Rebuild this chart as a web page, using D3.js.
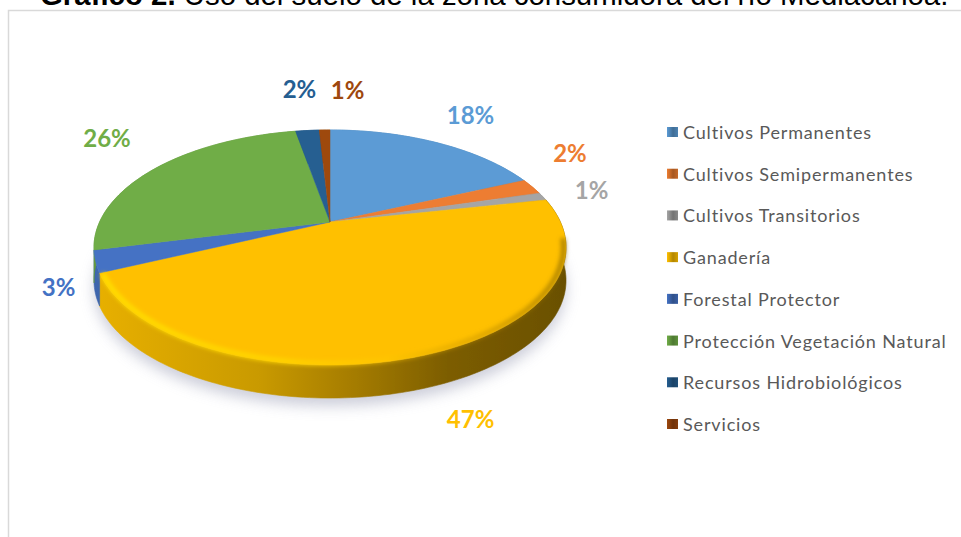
<!DOCTYPE html>
<html>
<head>
<meta charset="utf-8">
<script src="https://cdn.jsdelivr.net/npm/d3@7"></script>
<style>
  html, body { margin: 0; padding: 0; background: #fff; overflow: hidden; }
  svg { display: block; }
</style>
</head>
<body>
<svg></svg>
<script>
const categories = [
  "Cultivos Permanentes",
  "Cultivos Semipermanentes",
  "Cultivos Transitorios",
  "Ganadería",
  "Forestal Protector",
  "Protección Vegetación Natural",
  "Recursos Hidrobiológicos",
  "Servicios",
];
// labels are rounded, the slices read a little finer than that
const values = [18.4, 2.2, 1.1, 46.5, 3.0, 25.9, 2.0, 0.9];
const colors = ["#5b9bd5", "#ed7d31", "#a5a5a5", "#ffc000", "#4472c4", "#70ad47", "#255e91", "#9e480e"];
// the labels were placed by hand in the original, offset from the rim
const labelNudges = [[34, -28], [38, -34], [49, -7], [50, 62], [-37, 25], [-50, -30], [-8, -42], [23, -41]];

const width = 961;
const height = 537;
const svg = d3.select("svg").attr("width", width).attr("height", height);

// pie centre and the perspective of the tilted disc
const cx = 330;
const cy = 222;
const radiusX = 230.4;
const radiusY = 112;
const tilt = 0.217;
const depth = 33;

const rim = (angle, r = 1) => {
  const u = Math.sin(angle) * r;
  const v = Math.cos(angle) * r;
  const w = 1 + tilt * v;
  return [cx + (radiusX * u) / w, cy - (radiusY * v) / w];
};

const arcPoints = (a0, a1, r = 1) => {
  const n = Math.max(2, Math.ceil((a1 - a0) / 0.02));
  return d3.range(n + 1).map((i) => rim(a0 + ((a1 - a0) * i) / n, r));
};

const line = d3.line();
const slices = d3.pie().sort(null).value((d) => d)(values);
const color = d3.scaleOrdinal().domain(categories).range(colors);
const pct = d3.format(".0f");

const defs = svg.append("defs");
const addBlur = (id, amount) => {
  defs
    .append("filter")
    .attr("id", id)
    .attr("x", "-20%")
    .attr("y", "-20%")
    .attr("width", "140%")
    .attr("height", "140%")
    .append("feGaussianBlur")
    .attr("stdDeviation", amount);
};
addBlur("shadowBlur", 7);
addBlur("rimBlur", 2);
addBlur("softBlur", 0.6);

// side of the disc goes dark towards the right
const sideGradient = (id, stops) => {
  const g = defs
    .append("linearGradient")
    .attr("id", id)
    .attr("gradientUnits", "userSpaceOnUse")
    .attr("x1", cx - radiusX - 6)
    .attr("x2", cx + radiusX + 6)
    .attr("y1", 0)
    .attr("y2", 0);
  stops.forEach((s) => {
    g.append("stop").attr("offset", s[0]).attr("stop-color", s[1]).attr("stop-opacity", s[2]);
  });
};
sideGradient("sideYellow", [[0, "#e8b000", 1], [0.35, "#c99a00", 1], [0.55, "#a57c00", 1], [0.75, "#7c5d00", 1], [1, "#6a5000", 1]]);
sideGradient("rimLight", [[0, "#ffe000", 1], [0.4, "#ffd400", 1], [0.62, "#ffc800", 0.6], [0.8, "#c89400", 0.5], [1, "#8a6800", 0.7]]);

// title, cut by the top of the picture
const title = svg
  .append("text")
  .attr("x", 40)
  .attr("y", 5)
  .attr("font-family", "Liberation Sans")
  .attr("font-size", 29.4)
  .attr("fill", "#000");
title.append("tspan").attr("font-weight", "bold").text("Gráfico 2. ");
title.append("tspan").text("Uso del suelo de la zona consumidora del río Mediacanoa.");

// chart frame
svg
  .append("path")
  .attr("d", line([[8.5, height], [8.5, 10.5], [width, 10.5]]))
  .attr("fill", "none")
  .attr("stroke", "#d9d9d9")
  .attr("stroke-width", 1.5);

// shadow under the disc
svg
  .append("path")
  .attr("d", line(arcPoints(0, 2 * Math.PI)) + "Z")
  .attr("transform", "translate(0," + (depth + 8) + ")")
  .attr("fill", "#c4c6d4")
  .attr("opacity", 0.85)
  .attr("filter", "url(#shadowBlur)");

const pie = svg.append("g").attr("filter", "url(#softBlur)");

// sides first, the top face covers the back half
const sideFill = (d, i) => (categories[i] === "Ganadería" ? "url(#sideYellow)" : d3.color(colors[i]).darker(0.35));
pie
  .selectAll("path.side")
  .data(slices)
  .enter()
  .append("path")
  .attr("class", "side")
  .attr("d", (d) => {
    const top = arcPoints(d.startAngle, d.endAngle);
    const bottom = top.map((p) => [p[0], p[1] + depth]).reverse();
    return line(top.concat(bottom)) + "Z";
  })
  .attr("fill", sideFill)
  .attr("stroke", sideFill)
  .attr("stroke-width", 0.6);

// top face
pie
  .selectAll("path.top")
  .data(slices)
  .enter()
  .append("path")
  .attr("class", "top")
  .attr("d", (d) => line([[cx, cy]].concat(arcPoints(d.startAngle, d.endAngle))) + "Z")
  .attr("fill", (d, i) => color(categories[i]))
  .attr("stroke", (d, i) => color(categories[i]))
  .attr("stroke-width", 0.5);

// bevel highlight along the front of the yellow slice
const ganaderia = slices[categories.indexOf("Ganadería")];
svg
  .append("path")
  .attr("d", line(arcPoints(ganaderia.startAngle + 0.35, ganaderia.endAngle - 0.01, 0.99)))
  .attr("fill", "none")
  .attr("stroke", "url(#rimLight)")
  .attr("stroke-width", 5)
  .attr("filter", "url(#rimBlur)");

// percentage labels
svg
  .selectAll("text.pct")
  .data(slices)
  .enter()
  .append("text")
  .attr("class", "pct")
  .attr("x", (d, i) => rim((d.startAngle + d.endAngle) / 2)[0] + labelNudges[i][0])
  .attr("y", (d, i) => rim((d.startAngle + d.endAngle) / 2)[1] + labelNudges[i][1])
  .attr("text-anchor", "middle")
  .attr("dominant-baseline", "central")
  .attr("font-family", "Lato")
  .attr("font-weight", "bold")
  .attr("font-size", 24)
  .attr("fill", (d, i) => color(categories[i]))
  .text((d) => pct(d.value) + "%");

// legend
const legendY = d3.scalePoint().domain(categories).range([132, 424]);

const swatchGrads = defs
  .selectAll("linearGradient.swatch")
  .data(categories)
  .enter()
  .append("linearGradient")
  .attr("class", "swatch")
  .attr("id", (d, i) => "swatch" + i);
swatchGrads.append("stop").attr("offset", 0).attr("stop-color", (d) => color(d));
swatchGrads.append("stop").attr("offset", 0.55).attr("stop-color", (d) => d3.color(color(d)).darker(1));
swatchGrads.append("stop").attr("offset", 1).attr("stop-color", (d) => d3.color(color(d)).darker(0.5));

const legend = svg
  .selectAll("g.legend")
  .data(categories)
  .enter()
  .append("g")
  .attr("class", "legend")
  .attr("transform", (d) => "translate(667," + legendY(d) + ")");

legend
  .append("rect")
  .attr("x", 0)
  .attr("y", -5)
  .attr("width", 11)
  .attr("height", 10)
  .attr("fill", (d, i) => "url(#swatch" + i + ")");

legend
  .append("text")
  .attr("x", 16)
  .attr("y", 0)
  .attr("dominant-baseline", "central")
  .attr("font-family", "Lato")
  .attr("font-size", 18)
  .attr("letter-spacing", 0.85)
  .attr("fill", "#595959")
  .text((d) => d);
</script>
</body>
</html>
